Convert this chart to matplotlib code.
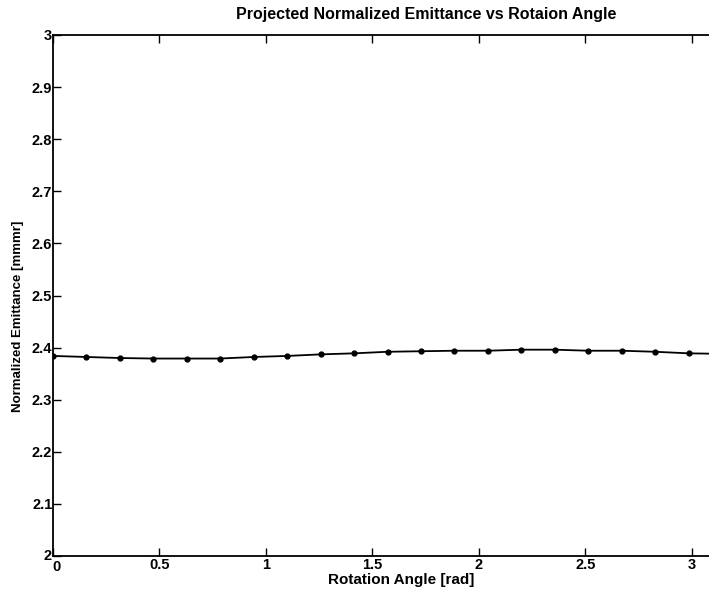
import numpy as np
import matplotlib
matplotlib.use("Agg")
import matplotlib.pyplot as plt
import matplotlib.transforms as mtransforms

plt.rcParams['font.family'] = ['Liberation Sans', 'DejaVu Sans']

# Rotation angle samples (step pi/20) and projected normalized emittance
angle = [0.0, 0.157, 0.314, 0.471, 0.628, 0.785, 0.942, 1.100, 1.257, 1.414,
         1.571, 1.728, 1.885, 2.042, 2.199, 2.356, 2.513, 2.670, 2.827, 2.985, 3.142]
emittance = [2.384, 2.382, 2.380, 2.379, 2.379, 2.379, 2.382, 2.384, 2.387, 2.389,
             2.392, 2.393, 2.394, 2.394, 2.396, 2.396, 2.394, 2.394, 2.392, 2.389, 2.388]
xticks = [0, 0.5, 1, 1.5, 2, 2.5, 3]
xtick_labels = ['0', '0.5', '1', '1.5', '2', '2.5', '3']
yticks = [2, 2.1, 2.2, 2.3, 2.4, 2.5, 2.6, 2.7, 2.8, 2.9, 3]
ytick_labels = ['2', '2.1', '2.2', '2.3', '2.4', '2.5', '2.6', '2.7', '2.8', '2.9', '3']

W, H = 709, 597
fig = plt.figure(figsize=(W / 100, H / 100), dpi=100)
left, right, top, bottom = 53, 722, 35, 556
ax = fig.add_axes([left / W, 1 - bottom / H, (right - left) / W, (bottom - top) / H])

ax.plot(angle, emittance, color='black', linewidth=1.3, marker='o',
        markersize=3.5, markerfacecolor='black', markeredgecolor='black')

ax.set_xlim(0, np.pi)
ax.set_ylim(2, 3)
ax.set_xticks(xticks)
ax.set_xticklabels(xtick_labels, fontweight='bold')
ax.set_yticks(yticks)
ax.set_yticklabels(ytick_labels, fontweight='bold')
ax.tick_params(direction='in', length=6, width=1.0, labelsize=10.5,
               top=True, right=True)
ax.tick_params(axis='x', pad=1.5)
ax.tick_params(axis='y', pad=0.5)
for s in ax.spines.values():
    s.set_linewidth(1.3)
    s.set_color('black')

# nudge the corner labels apart as in the reference
first_x = ax.get_xticklabels()[0]
first_x.set_transform(first_x.get_transform() +
                      mtransforms.ScaledTranslation(4 / 100, -2 / 100, fig.dpi_scale_trans))
first_y = ax.get_yticklabels()[0]
first_y.set_transform(first_y.get_transform() +
                      mtransforms.ScaledTranslation(-1 / 100, 1 / 100, fig.dpi_scale_trans))

axw = right - left
axh = bottom - top
ax.text((426 - left) / axw, (bottom - 14) / axh,
        'Projected Normalized Emittance vs Rotaion Angle',
        transform=ax.transAxes, ha='center', va='center', fontsize=11.5,
        fontweight='bold')
ax.text((401 - left) / axw, (bottom - 580) / axh, 'Rotation Angle [rad]',
        transform=ax.transAxes, ha='center', va='center', fontsize=11,
        fontweight='bold')
ax.text((18 - left) / axw, (bottom - 316) / axh, 'Normalized Emittance [mmmr]',
        transform=ax.transAxes, ha='center', va='center', rotation=90,
        fontsize=9.5, fontweight='bold')

fig.savefig('out.png', dpi=100)
